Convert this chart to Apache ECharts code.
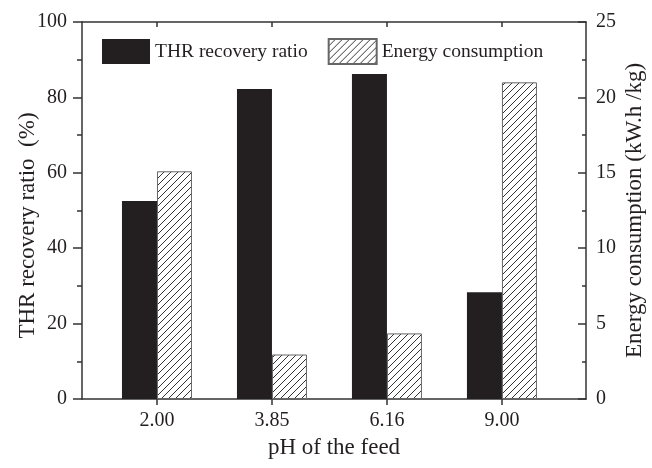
<!DOCTYPE html>
<html>
<head>
<meta charset="utf-8">
<script src="https://cdn.jsdelivr.net/npm/echarts@6/dist/echarts.min.js"></script>
<style>
  html, body { margin: 0; padding: 0; background: #fff; }
  #chart { width: 652px; height: 468px; }
</style>
</head>
<body>
<div id="chart"></div>
<script>
// Feed pH levels (category labels on the x axis)
const phLabels = ['2.00', '3.85', '6.16', '9.00'];
// THR recovery ratio, % (left axis)
const recoveryRatio = [52.5, 82.2, 86.2, 28.3];
// Energy consumption, kW.h/kg (right axis)
const energyUse = [15.1, 2.95, 4.35, 21.0];

const positions = phLabels.map((_, i) => i);
const FONT = '"Liberation Serif", "DejaVu Serif", serif';
const INK = '#231f20';

// Diagonal hatch tile for the energy bars
function hatchPattern() {
  const s = 7;
  const c = document.createElement('canvas');
  c.width = s; c.height = s;
  const g = c.getContext('2d');
  g.fillStyle = '#fff';
  g.fillRect(0, 0, s, s);
  g.strokeStyle = '#333';
  g.lineWidth = 1;
  for (const off of [-s, 0, s]) {
    g.beginPath();
    g.moveTo(off, s);
    g.lineTo(off + s, 0);
    g.stroke();
  }
  return { image: c, repeat: 'repeat' };
}

const chart = echarts.init(document.getElementById('chart'), null, { renderer: 'canvas' });

const xMin = -0.652, xMax = 3.731;
const axisLineStyle = { color: '#333', width: 1.5 };

chart.setOption({
  animation: false,
  backgroundColor: '#fff',
  textStyle: { fontFamily: FONT, color: INK },
  grid: { left: 82, right: 66, top: 22, bottom: 69, containLabel: false, outerBoundsMode: 'none' },
  legend: {
    left: 97, top: 33, icon: 'rect',
    itemWidth: 48, itemHeight: 25, itemGap: 20,
    textStyle: { fontFamily: FONT, fontSize: 19.5, color: INK },
    data: ['THR recovery ratio', 'Energy consumption']
  },
  xAxis: [
    {
      type: 'value', position: 'bottom', min: xMin, max: xMax,
      name: 'pH of the feed', nameLocation: 'middle', nameGap: 37, nameMoveOverlap: false,
      nameTextStyle: { fontFamily: FONT, fontSize: 23, color: INK },
      axisLine: { show: true, onZero: false, lineStyle: axisLineStyle },
      axisTick: { show: true, inside: false, length: 6, customValues: positions, lineStyle: axisLineStyle },
      axisLabel: {
        customValues: positions, margin: 12,
        fontFamily: FONT, fontSize: 20, color: INK,
        formatter: v => phLabels[Math.round(v)]
      },
      splitLine: { show: false }
    },
    {
      type: 'value', position: 'top', min: xMin, max: xMax,
      axisLine: { show: true, onZero: false, lineStyle: axisLineStyle },
      axisTick: { show: true, inside: true, length: 5, customValues: positions, lineStyle: axisLineStyle },
      axisLabel: { show: false },
      splitLine: { show: false }
    }
  ],
  yAxis: [
    {
      type: 'value', position: 'left', min: 0, max: 100, interval: 20,
      name: 'THR recovery ratio  (%)', nameLocation: 'middle', nameGap: 43, nameMoveOverlap: false,
      nameTextStyle: { fontFamily: FONT, fontSize: 23, color: INK, padding: [0, 30, 0, 0] },
      axisLine: { show: true, onZero: false, lineStyle: axisLineStyle },
      axisTick: { show: true, inside: false, length: 9, lineStyle: axisLineStyle },
      minorTick: { show: true, splitNumber: 2, length: 5, lineStyle: axisLineStyle },
      axisLabel: { margin: 15, fontFamily: FONT, fontSize: 20, color: INK },
      splitLine: { show: false }
    },
    {
      type: 'value', position: 'right', min: 0, max: 25, interval: 5,
      name: 'Energy consumption (kW.h /kg)', nameLocation: 'middle', nameGap: 37, nameMoveOverlap: false,
      nameTextStyle: { fontFamily: FONT, fontSize: 23, color: INK },
      axisLine: { show: true, onZero: false, lineStyle: axisLineStyle },
      axisTick: { show: true, inside: true, length: 8, lineStyle: axisLineStyle },
      minorTick: { show: true, splitNumber: 2, length: 4, lineStyle: axisLineStyle },
      axisLabel: { margin: 10, fontFamily: FONT, fontSize: 20, color: INK },
      splitLine: { show: false }
    }
  ],
  series: [
    {
      name: 'THR recovery ratio', type: 'bar',
      xAxisIndex: 0, yAxisIndex: 0,
      barWidth: 35, barGap: '0%',
      itemStyle: { color: INK },
      data: positions.map((p, i) => [p, recoveryRatio[i]])
    },
    {
      name: 'Energy consumption', type: 'bar',
      xAxisIndex: 0, yAxisIndex: 1,
      barWidth: 35, barGap: '0%',
      itemStyle: { color: hatchPattern(), borderColor: '#666', borderWidth: 1 },
      data: positions.map((p, i) => [p, energyUse[i]])
    }
  ]
});
</script>
</body>
</html>
